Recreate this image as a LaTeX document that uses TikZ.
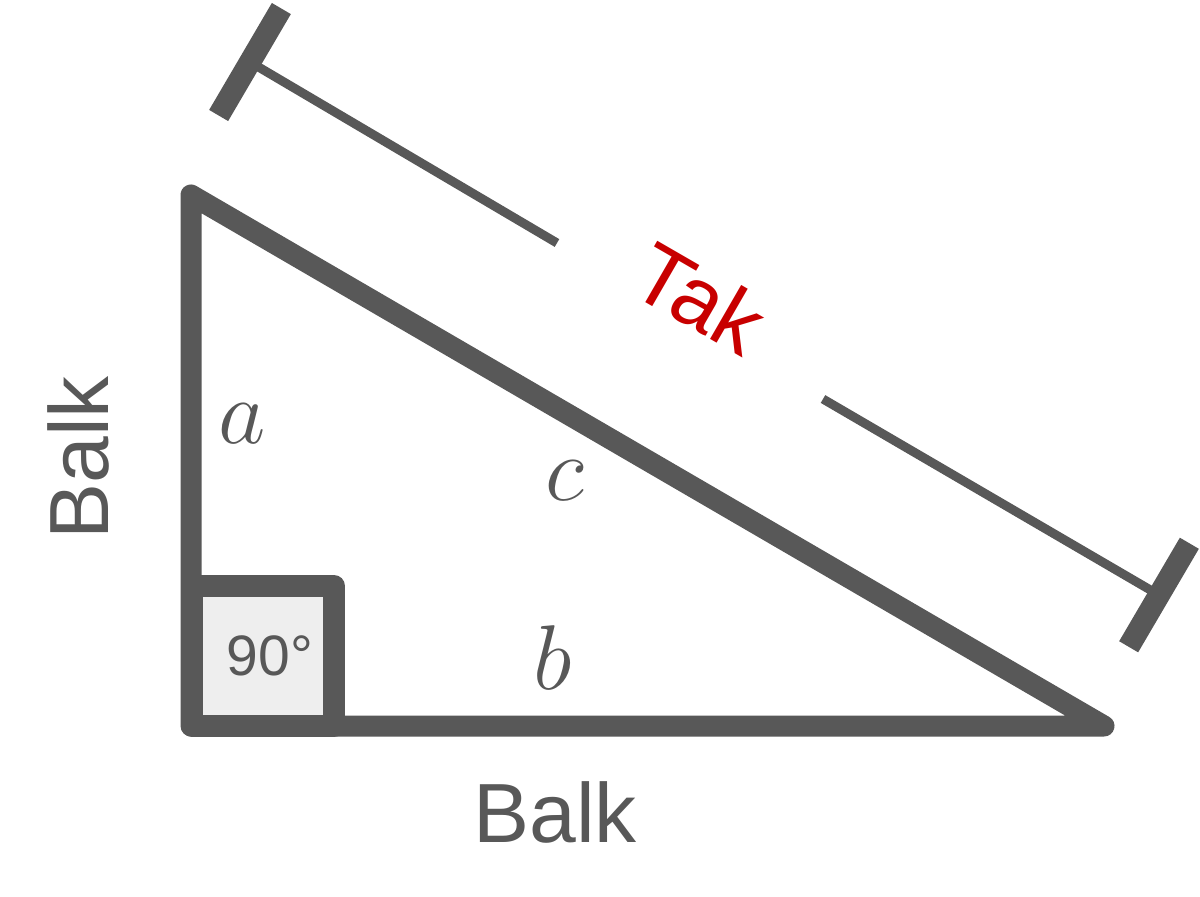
\RequirePackage{fix-cm}
\documentclass[tikz,border=0pt]{standalone}
\usepackage{fontspec}
\newfontfamily\labelfont{Liberation Sans}
\usetikzlibrary{calc}
\definecolor{lineGray}{RGB}{88,88,88}
\definecolor{boxFill}{RGB}{238,238,238}
\definecolor{takRed}{RGB}{200,0,0}
\tikzset{
  tri/.style={draw=lineGray, line width=10.5pt, line join=round, line cap=round},
  anglebox/.style={draw=lineGray, fill=boxFill, line width=11pt, line join=round},
  dimline/.style={draw=lineGray, line width=4.5pt},
  capbar/.style={draw=lineGray, line width=11pt},
  bigtext/.style={text=lineGray, inner sep=0pt, font=\labelfont\fontsize{42pt}{42pt}\selectfont},
  degtext/.style={text=lineGray, inner sep=0pt, font=\labelfont\fontsize{28.5pt}{28.5pt}\selectfont},
  taktext/.style={text=takRed, inner sep=0pt, font=\labelfont\fontsize{43pt}{43pt}\selectfont},
  vartext/.style={text=lineGray, inner sep=0pt, font=\fontsize{46pt}{46pt}\selectfont}
}
\begin{document}
\begin{tikzpicture}[x=0.5pt,y=-0.5pt]
\path[use as bounding box] (0,0) rectangle (1200,896);
% triangle corners
\coordinate (A) at (191,195);
\coordinate (C) at (191,726);
\coordinate (B) at (1104,726);
\draw[tri] (A) -- (C) -- (B) -- cycle;
% right-angle box
\coordinate (boxLL) at (192,726);
\coordinate (boxUR) at (334,586);
\draw[anglebox] (boxLL) rectangle (boxUR);
\node[degtext] (deg) at (270,656) {90°};
% dimension line
\coordinate (L) at (250,62);
\coordinate (R) at (1159,595);
\coordinate (G1) at (557,243);
\coordinate (G2) at (823,399);
\draw[dimline] (L) -- (G1);
\draw[dimline] (G2) -- (R);
\draw[capbar] ($(L)!31pt!90:(R)$) -- ($(L)!31pt!-90:(R)$);
\draw[capbar] ($(R)!30pt!90:(L)$) -- ($(R)!30pt!-90:(L)$);
% labels
\node[taktext, rotate=-30] (tak) at (700,298) {Tak};
\node[bigtext] (balkB) at (555,812) {Balk};
\node[bigtext, rotate=90] (balkL) at (78,458) {Balk};
\node[vartext] (va) at (242,424) {$a$};
\node[vartext] (vc) at (565,481) {$c$};
\node[vartext] (vb) at (553,658) {$b$};
\end{tikzpicture}
\end{document}
